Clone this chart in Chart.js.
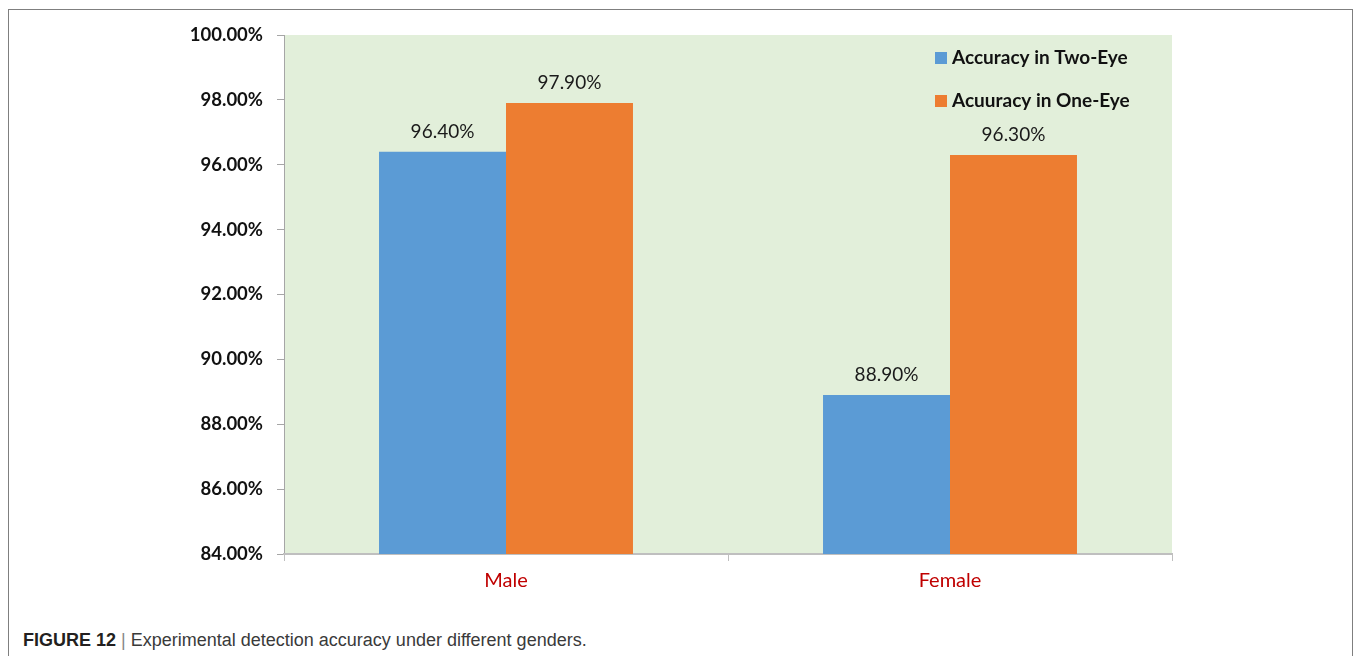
<!DOCTYPE html>
<html>
<head>
<meta charset="utf-8">
<script src="https://cdn.jsdelivr.net/npm/chart.js@4.4.1/dist/chart.umd.min.js"></script>
<style>
  html, body { margin: 0; padding: 0; background: #fff; }
  body { width: 1356px; height: 656px; position: relative; overflow: hidden; }
  #frame {
    position: absolute; left: 8px; top: 9px; width: 1345px; height: 660px;
    border: 1px solid #7f7f7f; box-sizing: border-box;
  }
  #wrap { position: absolute; left: 0; top: 0; width: 1356px; height: 620px; }
  #caption {
    position: absolute; left: 23px; top: 630px;
    font-family: "Liberation Sans", Arial, sans-serif; font-size: 18px; color: #3a3a3a;
  }
  #caption b { color: #231f20; }
  #caption .sep { color: #888; }
</style>
</head>
<body>
<div id="frame"></div>
<div id="wrap"><canvas id="genderChart"></canvas></div>
<div id="caption"><b>FIGURE 12</b> <span class="sep">|</span> Experimental detection accuracy under different genders.</div>

<script>
// données
const categories = ['Male', 'Female'];
const twoEye = [0.964, 0.889];
const oneEye = [0.979, 0.963];
const seriesNames = ['Accuracy in Two-Eye', 'Acuuracy in One-Eye'];
const yTicks = [0.84, 0.86, 0.88, 0.90, 0.92, 0.94, 0.96, 0.98, 1.00];

const BLUE = '#5b9bd5';
const ORANGE = '#ed7d31';
const FONT = 'Lato, "Open Sans", sans-serif';

// fond vert de la zone de tracé
const plotBg = {
  id: 'plotBg',
  beforeDraw(chart) {
    const { ctx, chartArea: a } = chart;
    ctx.save();
    ctx.fillStyle = '#e2efda';
    ctx.fillRect(a.left, a.top, a.right - a.left, a.bottom - a.top);
    ctx.restore();
  }
};

// valeurs au-dessus des barres
const barValues = {
  id: 'barValues',
  afterDatasetsDraw(chart) {
    const ctx = chart.ctx;
    ctx.save();
    ctx.font = '19px ' + FONT;
    ctx.fillStyle = '#1a1a1a';
    ctx.textAlign = 'center';
    ctx.textBaseline = 'alphabetic';
    chart.data.datasets.forEach((ds, i) => {
      chart.getDatasetMeta(i).data.forEach((bar, j) => {
        ctx.fillText((ds.data[j] * 100).toFixed(2) + '%', bar.x, bar.y - 14);
      });
    });
    ctx.restore();
  }
};

// légende dans la zone de tracé, en haut à droite
const insideLegend = {
  id: 'insideLegend',
  afterDraw(chart) {
    const ctx = chart.ctx;
    const x = 935, y0 = 58, gap = 43;
    ctx.save();
    ctx.font = 'bold 19px ' + FONT;
    ctx.textBaseline = 'middle';
    ctx.textAlign = 'left';
    chart.data.datasets.forEach((ds, i) => {
      const y = y0 + i * gap;
      ctx.fillStyle = ds.backgroundColor;
      ctx.fillRect(x, y - 6, 12, 12);
      ctx.fillStyle = '#111';
      ctx.fillText(ds.label, x + 17, y);
    });
    ctx.restore();
  }
};

const ctx = document.getElementById('genderChart');

new Chart(ctx, {
  type: 'bar',
  data: {
    labels: categories,
    datasets: [
      { label: seriesNames[0], data: twoEye, backgroundColor: BLUE },
      { label: seriesNames[1], data: oneEye, backgroundColor: ORANGE }
    ]
  },
  options: {
    responsive: true,
    maintainAspectRatio: false,
    animation: false,
    categoryPercentage: 0.572,
    barPercentage: 1.0,
    layout: { padding: { left: 184, right: 184, top: 35, bottom: 16 } },
    plugins: { legend: { display: false }, tooltip: { enabled: false } },
    scales: {
      y: {
        min: 0.84,
        max: 1.0,
        afterFit(scale) { scale.width = 100; },
        afterBuildTicks(scale) { scale.ticks = yTicks.map(v => ({ value: v })); },
        border: { display: true, color: '#a6a6a6', width: 1 },
        grid: { drawOnChartArea: false, color: '#a6a6a6', tickLength: 7 },
        ticks: {
          padding: 14,
          color: '#111',
          font: { family: FONT, size: 18.5, weight: 'bold' },
          callback: v => (v * 100).toFixed(2) + '%'
        }
      },
      x: {
        afterFit(scale) { scale.height = 50; },
        border: { display: true, color: '#bfbfbf', width: 2 },
        grid: { offset: true, drawOnChartArea: false, color: '#bfbfbf', tickLength: 7 },
        ticks: {
          padding: 8,
          color: '#c00000',
          font: { family: FONT, size: 20 }
        }
      }
    }
  },
  plugins: [plotBg, barValues, insideLegend]
});
</script>
</body>
</html>
